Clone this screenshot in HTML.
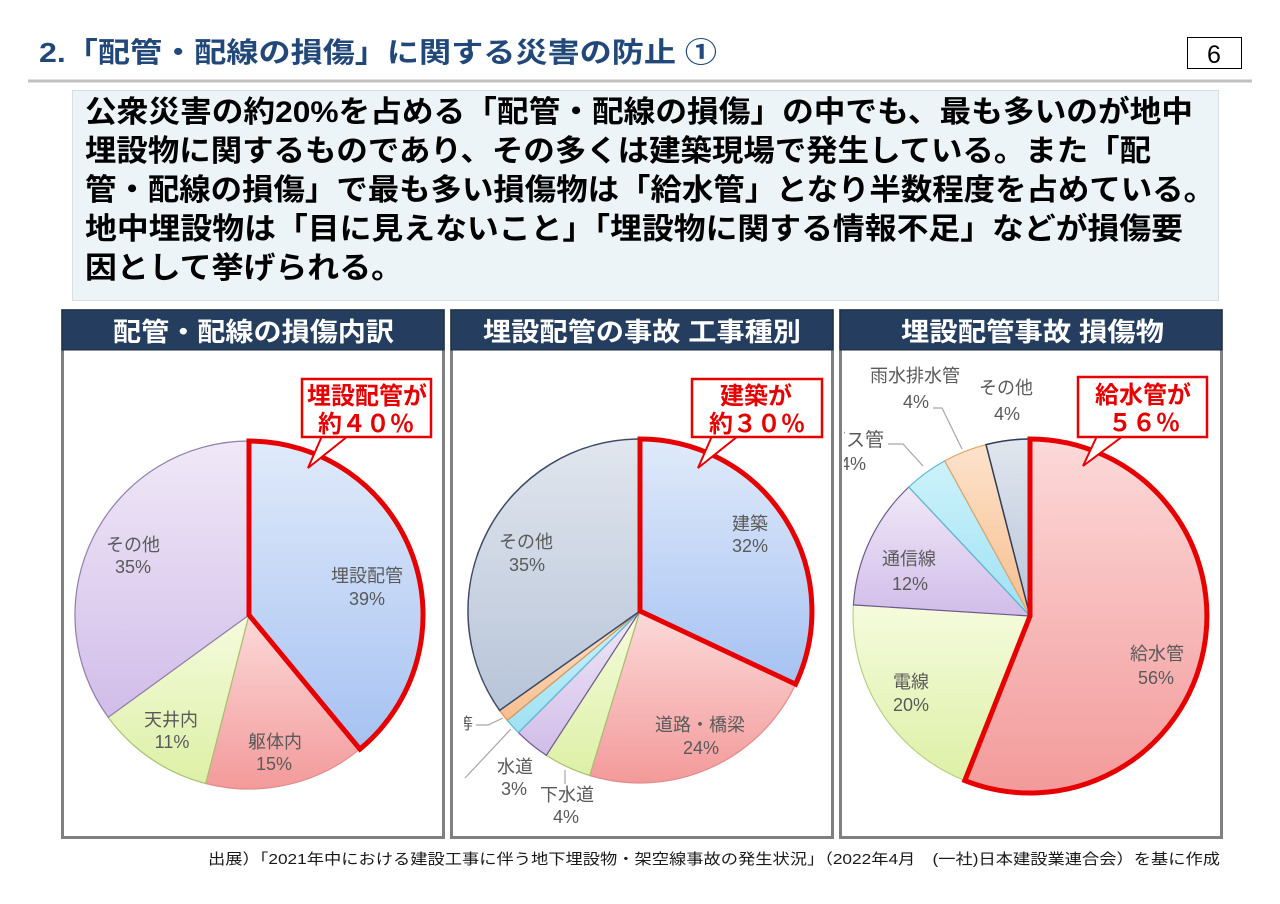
<!DOCTYPE html>
<html><head><meta charset="utf-8">
<style>
html,body{margin:0;padding:0;background:#fff;}
svg{display:block;}
text{font-family:"Liberation Sans","Noto Sans CJK JP",sans-serif;}
</style></head>
<body>
<svg width="1280" height="904" viewBox="0 0 1280 904" xmlns="http://www.w3.org/2000/svg">
<defs>
<linearGradient id="gBlue" x1="0" y1="0" x2="0" y2="1"><stop offset="0" stop-color="#e0eafa"/><stop offset="1" stop-color="#a6c2f2"/></linearGradient>
<linearGradient id="gPink" x1="0" y1="0" x2="0" y2="1"><stop offset="0" stop-color="#fcd9d9"/><stop offset="1" stop-color="#f39a9a"/></linearGradient>
<linearGradient id="gGreen" x1="0" y1="0" x2="0" y2="1"><stop offset="0" stop-color="#f5fbdd"/><stop offset="1" stop-color="#ddf0a6"/></linearGradient>
<linearGradient id="gPurple" x1="0" y1="0" x2="0" y2="1"><stop offset="0" stop-color="#f0e8f7"/><stop offset="1" stop-color="#d1bde9"/></linearGradient>
<linearGradient id="gGray" x1="0" y1="0" x2="0" y2="1"><stop offset="0" stop-color="#e1e6ee"/><stop offset="1" stop-color="#b7c4d8"/></linearGradient>
<linearGradient id="gCyan" x1="0" y1="0" x2="0" y2="1"><stop offset="0" stop-color="#cdf2fb"/><stop offset="1" stop-color="#9fe1f3"/></linearGradient>
<linearGradient id="gOrange" x1="0" y1="0" x2="0" y2="1"><stop offset="0" stop-color="#fde3cc"/><stop offset="1" stop-color="#f7be8e"/></linearGradient>
<clipPath id="c1"><rect x="64" y="350" width="378" height="486"/></clipPath>
<clipPath id="c2"><rect x="464" y="350" width="367" height="486"/></clipPath>
<clipPath id="c3"><rect x="844" y="350" width="376" height="486"/></clipPath>
</defs>

<!-- Title -->
<text x="39" y="62" font-size="28" font-weight="bold" fill="#22487a" textLength="678" lengthAdjust="spacingAndGlyphs">2.「配管・配線の損傷」に関する災害の防止 ①</text>
<rect x="1187.5" y="37.5" width="54" height="31" fill="#fff" stroke="#000" stroke-width="1"/>
<text x="1214" y="63" font-size="25" text-anchor="middle" fill="#000">6</text>
<line x1="28" y1="81" x2="1252" y2="81" stroke="#c0c0c0" stroke-width="3"/>

<!-- Text box -->
<rect x="72.5" y="90.5" width="1146" height="210" fill="#edf4f7" stroke="#d6dfe5" stroke-width="1"/>
<g font-size="30" font-weight="bold" fill="#000">
<text x="85" y="122" textLength="1108" lengthAdjust="spacingAndGlyphs">公衆災害の約20%を占める「配管・配線の損傷」の中でも、最も多いのが地中</text>
<text x="85" y="161" textLength="1066" lengthAdjust="spacingAndGlyphs">埋設物に関するものであり、その多くは建築現場で発生している。また「配</text>
<text x="85" y="200" textLength="1130" lengthAdjust="spacingAndGlyphs">管・配線の損傷」で最も多い損傷物は「給水管」となり半数程度を占めている。</text>
<text x="85" y="239" textLength="1098" lengthAdjust="spacingAndGlyphs">地中埋設物は「目に見えないこと」「埋設物に関する情報不足」などが損傷要</text>
<text x="85" y="278" textLength="318" lengthAdjust="spacingAndGlyphs">因として挙げられる。</text>
</g>

<!-- Panels -->
<g fill="#fff" stroke="#808080" stroke-width="3">
<rect x="62.5" y="310.5" width="381" height="527"/>
<rect x="451.5" y="310.5" width="381" height="527"/>
<rect x="840.5" y="310.5" width="381" height="527"/>
</g>
<g fill="#253d5e" stroke="#1a2a40" stroke-width="1">
<rect x="62" y="310" width="382" height="40"/>
<rect x="451" y="310" width="382" height="40"/>
<rect x="840" y="310" width="382" height="40"/>
</g>
<g font-size="26" font-weight="bold" fill="#fff">
<text x="113" y="341" textLength="281" lengthAdjust="spacingAndGlyphs">配管・配線の損傷内訳</text>
<text x="483" y="341" textLength="318" lengthAdjust="spacingAndGlyphs">埋設配管の事故 工事種別</text>
<text x="901" y="341" textLength="263" lengthAdjust="spacingAndGlyphs">埋設配管事故 損傷物</text>
</g>

<!-- Pie 1 -->
<g stroke-width="1.2">
<path d="M249,615 L359.9,749.1 A174,174 0 0,1 205.7,783.5 Z" fill="url(#gPink)" stroke="#e48a8a"/>
<path d="M249,615 L205.7,783.5 A174,174 0 0,1 108.2,717.3 Z" fill="url(#gGreen)" stroke="#a9c070"/>
<path d="M249,615 L108.2,717.3 A174,174 0 0,1 249,441 Z" fill="url(#gPurple)" stroke="#8f7fab"/>
<path d="M249,615 L249,441 A174,174 0 0,1 359.9,749.1 Z" fill="url(#gBlue)" stroke="#e60000" stroke-width="5" stroke-linejoin="miter"/>
</g>
<g font-size="18" fill="#5a5a5a" text-anchor="middle">
<text x="367" y="582">埋設配管</text><text x="367" y="605">39%</text>
<text x="133" y="551">その他</text><text x="133" y="573">35%</text>
<text x="171" y="726">天井内</text><text x="172" y="748">11%</text>
<text x="275" y="748">躯体内</text><text x="274" y="770">15%</text>
</g>
<polygon points="322,436 308,468 348,436" fill="#fff" stroke="#e60000" stroke-width="2"/>
<rect x="302" y="379" width="129" height="58" fill="#fff" stroke="#e60000" stroke-width="2.5"/>
<g font-size="24" font-weight="bold" fill="#e60000" text-anchor="middle">
<text x="367" y="404">埋設配管が</text>
<text x="366" y="432">約４０％</text>
</g>

<!-- Pie 2 -->
<g stroke-width="1.2">
<path d="M640,611 L795.6,684.2 A172,172 0 0,1 589.7,775.5 Z" fill="url(#gPink)" stroke="#e48a8a"/>
<path d="M640,611 L589.7,775.5 A172,172 0 0,1 546.3,755.3 Z" fill="url(#gGreen)" stroke="#a9c070"/>
<path d="M640,611 L546.3,755.3 A172,172 0 0,1 518.4,732.6 Z" fill="url(#gPurple)" stroke="#6c5a8c"/>
<path d="M640,611 L518.4,732.6 A172,172 0 0,1 507.3,720.4 Z" fill="url(#gCyan)" stroke="#5bb8d0"/>
<path d="M640,611 L507.3,720.4 A172,172 0 0,1 499.6,710.4 Z" fill="url(#gOrange)" stroke="#d8965a"/>
<path d="M640,611 L499.6,710.4 A172,172 0 0,1 640,439 Z" fill="url(#gGray)" stroke="#3b4a66" stroke-width="1.5"/>
<path d="M640,611 L640,439 A172,172 0 0,1 795.6,684.2 Z" fill="url(#gBlue)" stroke="#e60000" stroke-width="5" stroke-linejoin="miter"/>
</g>
<g stroke="#a6a6a6" stroke-width="1.2" fill="none">
<polyline points="476,725 488,725 503,718"/>
<line x1="511" y1="729" x2="465" y2="778"/>
<line x1="565" y1="770" x2="565" y2="784"/>
</g>
<g font-size="18" fill="#5a5a5a" text-anchor="middle">
<text x="750" y="530">建築</text><text x="750" y="552">32%</text>
<text x="526" y="548">その他</text><text x="527" y="571">35%</text>
<text x="700" y="731">道路・橋梁</text><text x="701" y="754">24%</text>
<text x="515" y="773">水道</text><text x="514" y="795">3%</text>
<text x="567" y="801">下水道</text><text x="566" y="823">4%</text>
</g>
<text x="457" y="729" font-size="16" fill="#5a5a5a" clip-path="url(#c2)">等</text>
<polygon points="712,436 698,468 738,436" fill="#fff" stroke="#e60000" stroke-width="2"/>
<rect x="692" y="379" width="130" height="58" fill="#fff" stroke="#e60000" stroke-width="2.5"/>
<g font-size="24" font-weight="bold" fill="#e60000" text-anchor="middle">
<text x="756" y="404">建築が</text>
<text x="757" y="432">約３０％</text>
</g>

<!-- Pie 3 -->
<g stroke-width="1.2">
<path d="M1030,616 L964.8,780.6 A177,177 0 0,1 853.4,604.9 Z" fill="url(#gGreen)" stroke="#b8cf85"/>
<path d="M1030,616 L853.4,604.9 A177,177 0 0,1 908.8,487 Z" fill="url(#gPurple)" stroke="#6c5a8c"/>
<path d="M1030,616 L908.8,487 A177,177 0 0,1 944.7,460.9 Z" fill="url(#gCyan)" stroke="#5bb8d0"/>
<path d="M1030,616 L944.7,460.9 A177,177 0 0,1 986,444.6 Z" fill="url(#gOrange)" stroke="#e0a468"/>
<path d="M1030,616 L986,444.6 A177,177 0 0,1 1030,439 Z" fill="url(#gGray)" stroke="#2e3c57" stroke-width="1.5"/>
<path d="M1030,616 L1030,439 A177,177 0 1,1 964.8,780.6 Z" fill="url(#gPink)" stroke="#e60000" stroke-width="5" stroke-linejoin="miter"/>
</g>
<g stroke="#a6a6a6" stroke-width="1.2" fill="none">
<polyline points="888,444 903,444 923,466"/>
<polyline points="933,408 942,408 962,449"/>
</g>
<g font-size="18" fill="#5a5a5a" text-anchor="middle" clip-path="url(#c3)">
<text x="1157" y="660">給水管</text><text x="1156" y="684">56%</text>
<text x="911" y="688">電線</text><text x="911" y="711">20%</text>
<text x="909" y="565">通信線</text><text x="910" y="590">12%</text>
<text x="915" y="382">雨水排水管</text><text x="916" y="408">4%</text>
<text x="1006" y="394">その他</text><text x="1007" y="420">4%</text>
<text x="884" y="446" text-anchor="end" font-size="19">ガス管</text>
<text x="840" y="470" text-anchor="start">4%</text>
</g>
<polygon points="1097,436 1083,466 1123,436" fill="#fff" stroke="#e60000" stroke-width="2"/>
<rect x="1078" y="377" width="129" height="60" fill="#fff" stroke="#e60000" stroke-width="2.5"/>
<g font-size="24" font-weight="bold" fill="#e60000" text-anchor="middle">
<text x="1143" y="403">給水管が</text>
<text x="1144" y="431">５６％</text>
</g>

<!-- Footer -->
<text x="208" y="864" font-size="15" fill="#1a1a1a" textLength="1012" lengthAdjust="spacingAndGlyphs">出展）「2021年中における建設工事に伴う地下埋設物・架空線事故の発生状況」（2022年4月　(一社)日本建設業連合会）を基に作成</text>
</svg>
</body></html>
